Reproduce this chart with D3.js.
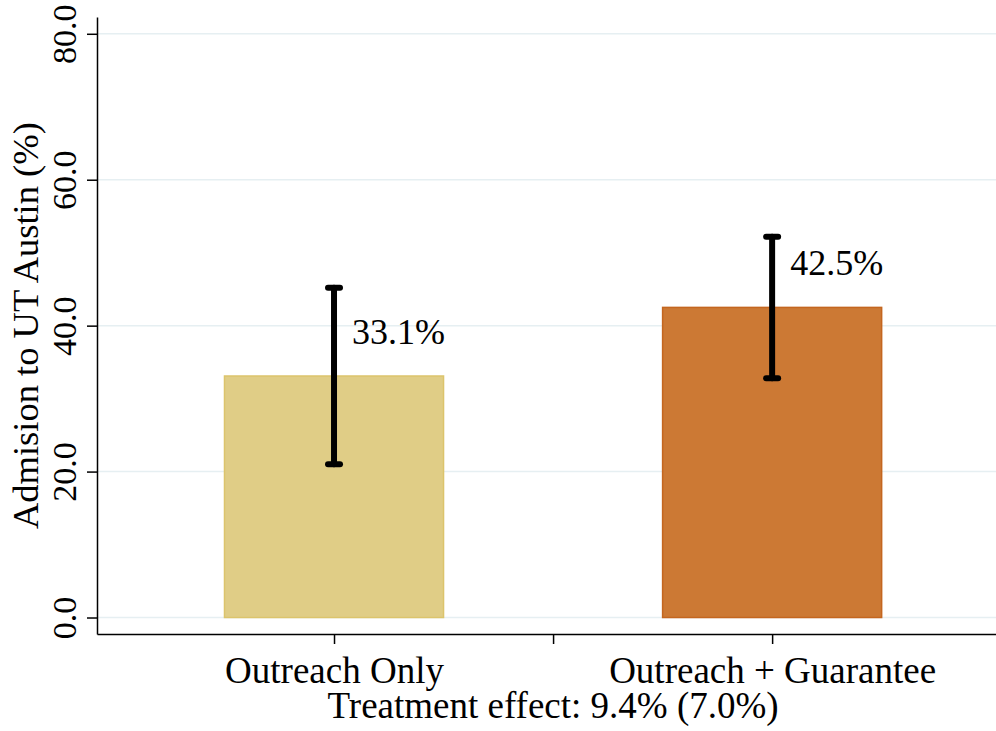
<!DOCTYPE html>
<html>
    <head>
        <meta charset="utf-8">
        <title>Admission to UT Austin</title>
        <style>
            html, body {
                margin: 0px;
                padding: 0px;
                background-color: #ffffff;
            }

            svg {
                display: block;
                font-family: "Liberation Serif", "DejaVu Serif", serif;
            }

            .axis .domain, .axis line {
                stroke: #000000;
                stroke-width: 1.5;
            }

            .axis text {
                fill: #000000;
            }
        </style>
        <script src="https://cdn.jsdelivr.net/npm/d3@7"></script>
    </head>
    <body>
        <div id="main"></div>

        <script>
            // values
            var categories = ["Outreach Only", "Outreach + Guarantee"];
            var positions = [1, 2];
            var means = [33.1, 42.5];
            var ciLow = [21.0, 32.8];
            var ciHigh = [45.2, 52.2];
            var barColors = ["#e0cd86", "#cc7934"];
            var barStrokes = ["#dcc46c", "#c4661f"];
            var yTicks = [0, 20, 40, 60, 80];
            var xTicks = [1, 1.5, 2];
            var note = "Treatment effect: 9.4% (7.0%)";
            var yTitle = "Admision to UT Austin (%)";

            var width = 996;
            var height = 731;
            var barWidth = 0.5;

            var svg = d3.select("#main")
                .append("svg")
                .attr("width", width)
                .attr("height", height);

            var x = d3.scaleLinear()
                .domain([0.459, 2.511])
                .range([97, 996]);

            var y = d3.scaleLinear()
                .domain([-2.26, 82.3])
                .range([634, 17]);

            // grid
            svg.append("g")
                .selectAll("line")
                .data(yTicks)
                .join("line")
                .attr("x1", x.range()[0])
                .attr("x2", x.range()[1])
                .attr("y1", function(d) { return y(d); })
                .attr("y2", function(d) { return y(d); })
                .attr("stroke", "#e6eff2")
                .attr("stroke-width", 1.5);

            // bars
            svg.append("g")
                .selectAll("rect")
                .data(means)
                .join("rect")
                .attr("x", function(d, i) { return x(positions[i] - barWidth / 2); })
                .attr("width", x(barWidth) - x(0))
                .attr("y", function(d) { return y(d); })
                .attr("height", function(d) { return y(0) - y(d); })
                .attr("fill", function(d, i) { return barColors[i]; })
                .attr("stroke", function(d, i) { return barStrokes[i]; })
                .attr("stroke-width", 1.5);

            // error bars
            var err = svg.append("g")
                .attr("stroke", "#000000")
                .attr("stroke-width", 6)
                .attr("stroke-linecap", "round");

            err.selectAll("line.stem")
                .data(means)
                .join("line")
                .attr("class", "stem")
                .attr("x1", function(d, i) { return x(positions[i]); })
                .attr("x2", function(d, i) { return x(positions[i]); })
                .attr("y1", function(d, i) { return y(ciLow[i]); })
                .attr("y2", function(d, i) { return y(ciHigh[i]); });

            [ciLow, ciHigh].forEach(function(arr) {
                err.append("g")
                    .selectAll("line")
                    .data(arr)
                    .join("line")
                    .attr("x1", function(d, i) { return x(positions[i]) - 6; })
                    .attr("x2", function(d, i) { return x(positions[i]) + 6; })
                    .attr("y1", function(d) { return y(d); })
                    .attr("y2", function(d) { return y(d); });
            });

            // value labels
            svg.append("g")
                .selectAll("text")
                .data(means)
                .join("text")
                .attr("x", function(d, i) { return x(positions[i]) + 18; })
                .attr("y", function(d) { return y(d + 4.45); })
                .attr("font-size", 36)
                .attr("fill", "#000000")
                .text(function(d) { return d.toFixed(1) + "%"; });

            // y axis
            var yAxis = svg.append("g")
                .attr("class", "axis")
                .attr("transform", "translate(" + x.range()[0] + ",0)")
                .call(d3.axisLeft(y)
                    .tickValues(yTicks)
                    .tickSizeInner(10)
                    .tickSizeOuter(0)
                    .tickFormat(d3.format(".1f")))
                .attr("font-family", null);

            yAxis.selectAll(".tick text")
                .attr("transform", "rotate(-90)")
                .attr("x", 0)
                .attr("y", -21)
                .attr("dy", 0)
                .attr("text-anchor", "middle")
                .attr("font-size", 34);

            // x axis
            var xAxis = svg.append("g")
                .attr("class", "axis")
                .attr("transform", "translate(0," + y.range()[0] + ")")
                .call(d3.axisBottom(x)
                    .tickValues(xTicks)
                    .tickSizeInner(10)
                    .tickSizeOuter(0)
                    .tickFormat(function(d) {
                        var i = positions.indexOf(d);
                        return i < 0 ? "" : categories[i];
                    }))
                .attr("font-family", null);

            xAxis.selectAll(".tick text")
                .attr("y", 49)
                .attr("dy", 0)
                .attr("font-size", 37);

            // axis title
            svg.append("text")
                .attr("transform", "translate(38," + y(40) + ") rotate(-90)")
                .attr("text-anchor", "middle")
                .attr("font-size", 36.5)
                .text(yTitle);

            // note under the chart
            svg.append("text")
                .attr("x", x(1.5))
                .attr("y", 718)
                .attr("text-anchor", "middle")
                .attr("font-size", 37)
                .text(note);
        </script>
    </body>
</html>
